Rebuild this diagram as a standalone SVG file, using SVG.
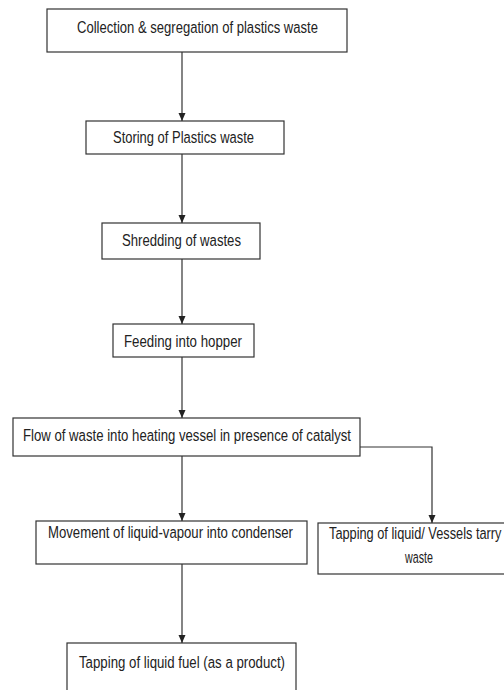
<svg xmlns="http://www.w3.org/2000/svg" width="504" height="690" viewBox="0 0 504 690">
<style>
.box{fill:#fff;stroke:#333;stroke-width:1.2}
.t{font-family:"Liberation Sans",Arial,sans-serif;font-size:17px;fill:#222}
.c{fill:none;stroke:#333;stroke-width:1.2}
</style>
<defs>
<marker id="ah" viewBox="0 0 8 8" refX="8" refY="4" markerWidth="8" markerHeight="8" markerUnits="userSpaceOnUse" orient="auto">
<path d="M0,0.5 L8,4 L0,7.5 Z" fill="#222"/>
</marker>
</defs>
<rect width="504" height="690" fill="#fff"/>
<g id="n1"><rect class="box" x="47" y="9" width="300" height="43"/><text class="t" transform="scale(0.775,1)" x="99.35" y="33" textLength="310.97" lengthAdjust="spacingAndGlyphs">Collection &amp; segregation of plastics waste</text></g>
<g id="n2"><rect class="box" x="86" y="121" width="198" height="33"/><text class="t" transform="scale(0.775,1)" x="145.81" y="143" textLength="181.94" lengthAdjust="spacingAndGlyphs">Storing of Plastics waste</text></g>
<g id="n3"><rect class="box" x="102" y="223" width="158" height="36"/><text class="t" transform="scale(0.775,1)" x="157.42" y="246" textLength="153.55" lengthAdjust="spacingAndGlyphs">Shredding of wastes</text></g>
<g id="n4"><rect class="box" x="113" y="324" width="141" height="33"/><text class="t" transform="scale(0.775,1)" x="160" y="347" textLength="152.26" lengthAdjust="spacingAndGlyphs">Feeding into hopper</text></g>
<g id="n5"><rect class="box" x="13" y="418" width="347" height="38"/><text class="t" transform="scale(0.775,1)" x="29.68" y="441" textLength="423.23" lengthAdjust="spacingAndGlyphs">Flow of waste into heating vessel in presence of catalyst</text></g>
<g id="n6"><rect class="box" x="36" y="521" width="271" height="43"/><text class="t" transform="scale(0.775,1)" x="61.94" y="538" textLength="316.13" lengthAdjust="spacingAndGlyphs">Movement of liquid-vapour into condenser</text></g>
<g id="n7"><rect class="box" x="318" y="523" width="200" height="51"/><text class="t" transform="scale(0.745,1)" x="441.61" y="539" textLength="231.5" lengthAdjust="spacingAndGlyphs">Tapping of liquid/ Vessels tarry</text><text class="t" transform="scale(0.775,1)" x="522.58" y="563" textLength="36.13" lengthAdjust="spacingAndGlyphs">waste</text></g>
<g id="n8"><rect class="box" x="67" y="643" width="229" height="60"/><text class="t" transform="scale(0.775,1)" x="101.94" y="668" textLength="265.81" lengthAdjust="spacingAndGlyphs">Tapping of liquid fuel (as a product)</text></g>
<g id="connectors">
<path class="c" d="M182,52 V121" marker-end="url(#ah)"/>
<path class="c" d="M182,154 V223" marker-end="url(#ah)"/>
<path class="c" d="M182,259 V324" marker-end="url(#ah)"/>
<path class="c" d="M182,357 V418" marker-end="url(#ah)"/>
<path class="c" d="M182,456 V521" marker-end="url(#ah)"/>
<path class="c" d="M360,447 H432 V523" marker-end="url(#ah)"/>
<path class="c" d="M182,564 V643" marker-end="url(#ah)"/>
</g>
</svg>
